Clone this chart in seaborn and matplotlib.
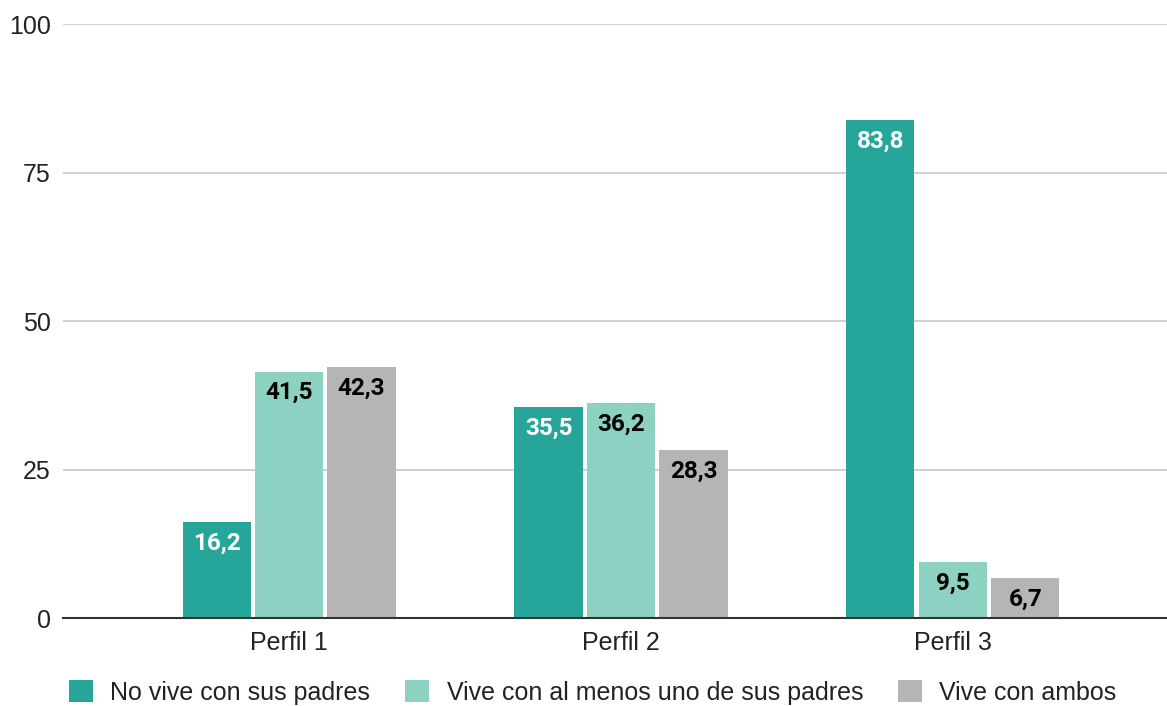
import pandas as pd
import numpy as np
import matplotlib.pyplot as plt
import seaborn as sns

perfiles = ['Perfil 1', 'Perfil 2', 'Perfil 3']
grupos = ['No vive con sus padres', 'Vive con al menos uno de sus padres', 'Vive con ambos']
no_vive = [16.2, 35.5, 83.8]
uno_padre = [41.5, 36.2, 9.5]
ambos = [42.3, 28.3, 6.7]

colores = ['#26A69A', '#8CD1C2', '#B5B5B5']
color_texto = ['white', 'black', 'black']

df = pd.DataFrame({
    'perfil': perfiles * 3,
    'grupo': [g for g in grupos for _ in perfiles],
    'valor': no_vive + uno_padre + ambos,
})

sns.set_style("white")
plt.rcParams['font.family'] = ['Liberation Sans', 'DejaVu Sans']

fig = plt.figure(figsize=(11.67, 7.06), dpi=100)
ax = fig.add_axes([0.054, 0.1246, 0.946, 0.8414])

sns.barplot(data=df, x='perfil', y='valor', hue='grupo', hue_order=grupos,
            palette=colores, width=0.655, gap=0.06, saturation=1,
            edgecolor='none', linewidth=0, ax=ax)

# etiquetas dentro de las barras
for i, cont in enumerate(ax.containers):
    for bar in cont:
        h = bar.get_height()
        x = bar.get_x() + bar.get_width() / 2
        ax.annotate(f'{h:.1f}'.replace('.', ','), (x, h), xytext=(0, -7),
                    textcoords='offset points', ha='center', va='top',
                    fontsize=17.5, fontweight='bold', color=color_texto[i],
                    family=['Roboto', 'DejaVu Sans'])

ax.set_ylim(0, 100)
ax.set_yticks([0, 25, 50, 75, 100])
ax.set_xlim(-0.681, 2.645)
ax.yaxis.grid(True, color='#CCCCCC', linewidth=1.3)
ax.set_axisbelow(True)
for s in ['top', 'right', 'left']:
    ax.spines[s].set_visible(False)
ax.spines['bottom'].set_color('#333333')
ax.spines['bottom'].set_linewidth(1.5)
ax.spines['bottom'].set_zorder(5)
ax.tick_params(axis='both', length=0, labelsize=18, colors='#222222')
ax.tick_params(axis='y', pad=9)
ax.tick_params(axis='x', pad=9)
ax.set_xlabel('')
ax.set_ylabel('')

handles, labels = ax.get_legend_handles_labels()
ax.get_legend().remove()
fig.legend(handles, labels, loc='center', bbox_to_anchor=(0.508, 0.019),
           ncol=3, frameon=False, fontsize=18, handlelength=0.95,
           handleheight=0.95, handletextpad=0.7, columnspacing=1.4,
           labelcolor='#222222')

fig.savefig('out.png', dpi=100)
